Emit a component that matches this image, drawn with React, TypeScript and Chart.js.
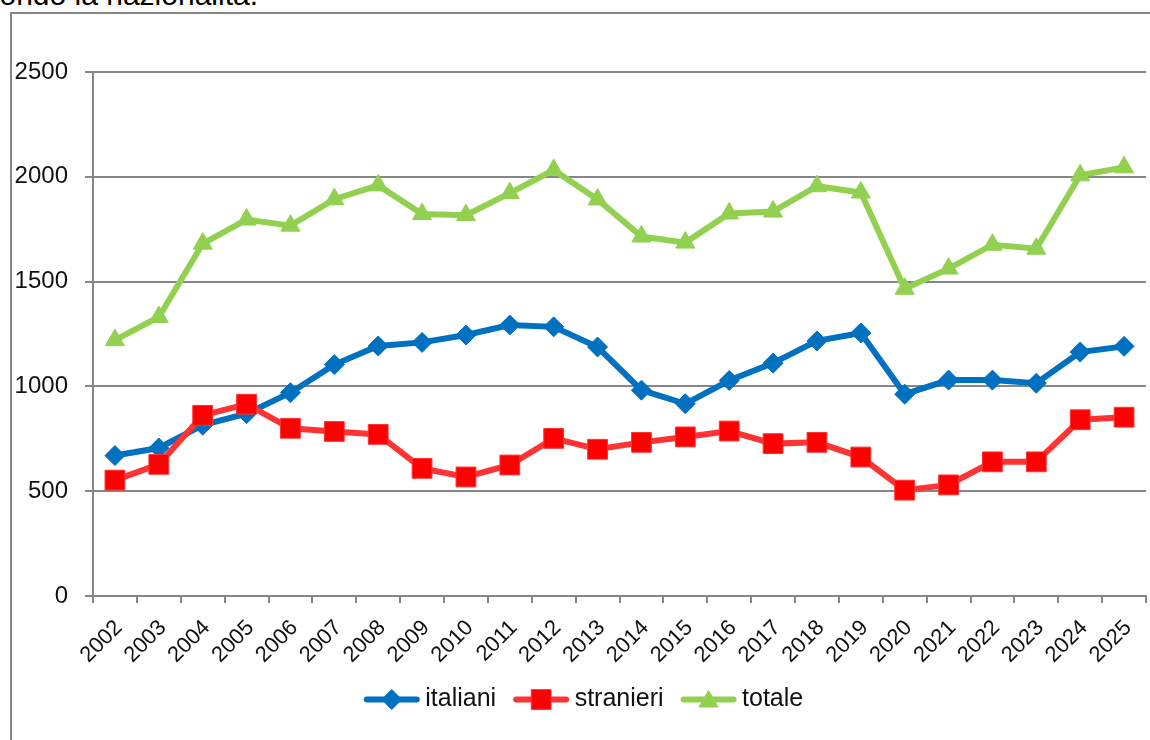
import React, { useEffect, useRef } from "react";
import { Chart, registerables } from "chart.js";

Chart.register(...registerables);

const years = ["2002","2003","2004","2005","2006","2007","2008","2009","2010","2011","2012","2013","2014","2015","2016","2017","2018","2019","2020","2021","2022","2023","2024","2025"];
const italiani = [670, 706, 815, 870, 970, 1104, 1193, 1210, 1245, 1293, 1284, 1188, 982, 917, 1028, 1111, 1217, 1255, 963, 1030, 1030, 1015, 1164, 1191];
const stranieri = [553, 628, 862, 915, 800, 785, 771, 609, 568, 625, 752, 700, 733, 759, 787, 727, 733, 663, 505, 530, 640, 640, 841, 853];
const totale = [1221, 1331, 1681, 1796, 1767, 1893, 1959, 1822, 1817, 1922, 2032, 1892, 1715, 1686, 1825, 1834, 1955, 1925, 1466, 1562, 1676, 1657, 2007, 2045];
const yTicks = [0, 500, 1000, 1500, 2000, 2500];

const FONT = "'Liberation Sans', Arial, sans-serif";
const GRID = "#868686";
const CANVAS_W = 1161;

function drawMarker(ctx: CanvasRenderingContext2D, style: string, x: number, y: number, r: number, fill: string, stroke: string) {
  ctx.save();
  ctx.fillStyle = fill;
  ctx.strokeStyle = stroke;
  ctx.lineWidth = 1;
  ctx.beginPath();
  if (style === "rectRot") {
    ctx.moveTo(x, y - r);
    ctx.lineTo(x + r, y);
    ctx.lineTo(x, y + r);
    ctx.lineTo(x - r, y);
    ctx.closePath();
  } else if (style === "rect") {
    const s = Math.SQRT1_2 * r;
    ctx.rect(x - s, y - s, 2 * s, 2 * s);
  } else {
    const a = (Math.PI * 2) / 3;
    ctx.moveTo(x, y - r);
    ctx.lineTo(x + Math.sin(a) * r, y - Math.cos(a) * r);
    ctx.lineTo(x - Math.sin(a) * r, y - Math.cos(a) * r);
    ctx.closePath();
  }
  ctx.fill();
  ctx.stroke();
  ctx.restore();
}

const legendMarkers = {
  id: "legendMarkers",
  afterLayout(chart: any) {
    const legend = chart.legend;
    if (!legend) return;
    const shift = 583.5 - (legend.left + legend.right) / 2;
    legend.left += shift;
    legend.right += shift;
  },
  afterDraw(chart: any) {
    const legend = chart.legend;
    if (!legend || !legend.legendHitBoxes) return;
    const ctx = chart.ctx as CanvasRenderingContext2D;
    legend.legendItems.forEach((item: any, i: number) => {
      const box = legend.legendHitBoxes[i];
      const ds = chart.data.datasets[item.datasetIndex];
      const cy = box.top + box.height / 2;
      const x0 = box.left + 3;
      const x1 = box.left + 53;
      ctx.save();
      ctx.strokeStyle = ds.borderColor;
      ctx.lineWidth = 6;
      ctx.lineCap = "round";
      ctx.beginPath();
      ctx.moveTo(x0, cy);
      ctx.lineTo(x1, cy);
      ctx.stroke();
      ctx.restore();
      drawMarker(ctx, ds.pointStyle, (x0 + x1) / 2, cy + (ds.pointStyle === "triangle" ? 2 : 0), ds.pointRadius, ds.pointBackgroundColor, ds.pointBorderColor);
    });
  },
};

export default function App() {
  const ref = useRef<HTMLCanvasElement>(null);
  useEffect(() => {
    if (!ref.current) return;
    const chart = new Chart(ref.current, {
      type: "line",
      data: {
        labels: years,
        datasets: [
          {
            label: "italiani",
            data: italiani,
            borderColor: "#0070C0",
            backgroundColor: "#0070C0",
            borderWidth: 6,
            pointStyle: "rectRot",
            pointRadius: 10,
            pointBackgroundColor: "#0070C0",
            pointBorderColor: "#0070C0",
            pointBorderWidth: 1,
            tension: 0,
            order: 3,
          },
          {
            label: "stranieri",
            data: stranieri,
            borderColor: "#FF3333",
            backgroundColor: "#FF0000",
            borderWidth: 6,
            pointStyle: "rect",
            pointRadius: 14,
            pointBackgroundColor: "#FF0000",
            pointBorderColor: "#FF3333",
            pointBorderWidth: 1,
            tension: 0,
            order: 2,
          },
          {
            label: "totale",
            data: totale,
            borderColor: "#92D050",
            backgroundColor: "#92D050",
            borderWidth: 6,
            pointStyle: "triangle",
            pointRadius: 11,
            pointBackgroundColor: "#92D050",
            pointBorderColor: "#92D050",
            pointBorderWidth: 1,
            tension: 0,
            order: 1,
          },
        ] as any,
      },
      options: {
        animation: false,
        responsive: false,
        maintainAspectRatio: false,
        layout: { padding: { left: 0, right: 0, top: 72, bottom: 18 } },
        plugins: {
          tooltip: { enabled: false },
          legend: {
            position: "bottom",
            labels: {
              boxWidth: 49,
              boxHeight: 6,
              padding: 17,
              color: "#111",
              font: { family: FONT, size: 25 },
              sort: (a: any, b: any) => a.datasetIndex - b.datasetIndex,
              generateLabels: (c: any) =>
                (Chart.defaults.plugins.legend.labels as any).generateLabels(c).map((l: any) => ({
                  ...l,
                  fillStyle: "rgba(0,0,0,0)",
                  strokeStyle: "rgba(0,0,0,0)",
                  lineWidth: 0,
                })),
            },
          },
        },
        scales: {
          x: {
            type: "category",
            offset: true,
            grid: { offset: true, drawOnChartArea: false, drawTicks: true, tickLength: 7, color: GRID, lineWidth: 2 },
            border: { display: true, color: GRID, width: 2 },
            ticks: {
              autoSkip: false,
              minRotation: 45,
              maxRotation: 45,
              padding: 12,
              labelOffset: 4,
              color: "#111",
              font: { family: FONT, size: 22 },
            },
            afterFit: (s: any) => { s.height = 74; s.paddingLeft = 0; s.paddingRight = 0; },
          },
          y: {
            min: 0,
            max: 2500,
            afterBuildTicks: (s: any) => { s.ticks = yTicks.map((v) => ({ value: v })); },
            grid: { color: GRID, lineWidth: 2, drawTicks: true, tickLength: 8 },
            border: { display: true, color: GRID, width: 2 },
            ticks: { padding: 17, color: "#111", font: { family: FONT, size: 24 }, callback: (v: any) => String(v) },
            afterFit: (s: any) => { s.width = 93; },
          },
        },
      } as any,
      plugins: [legendMarkers],
    });
    return () => chart.destroy();
  }, []);

  return (
    <div style={{ position: "fixed", left: 0, top: 0, width: 1150, height: 740, overflow: "hidden", background: "#fff" }}>
      <div
        style={{
          position: "absolute",
          left: -142,
          width: 400,
          top: -20,
          textAlign: "right",
          fontFamily: FONT,
          fontSize: 30,
          lineHeight: "30px",
          color: "#000",
          whiteSpace: "nowrap",
        }}
      >
        secondo la nazionalità.
      </div>
      <div
        style={{
          position: "absolute",
          left: 10,
          top: 12,
          width: 1200,
          height: 800,
          borderLeft: "2px solid #868686",
          borderTop: "2px solid #868686",
        }}
      />
      <canvas ref={ref} width={CANVAS_W} height={740} style={{ position: "absolute", left: 0, top: 0, width: CANVAS_W, height: 740 }} />
    </div>
  );
}
